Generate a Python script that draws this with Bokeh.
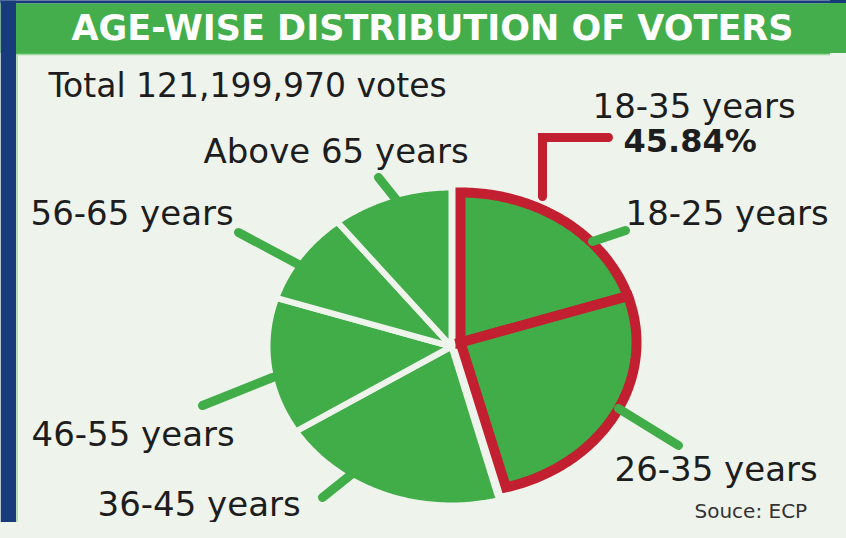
import numpy as np
from bokeh.plotting import figure
from bokeh.models import Range1d
from bokeh.core.properties import value
from bokeh.embed import file_html
from bokeh.resources import INLINE

# ---------------- data ----------------
title = "AGE-WISE DISTRIBUTION OF VOTERS"
total_votes = 121199970
categories = ["18-25 years", "26-35 years", "36-45 years",
              "46-55 years", "56-65 years", "Above 65 years"]
shares = [20.0, 25.84, 20.2, 13.9, 9.4, 10.66]   # percent, clockwise from top
highlight_label = "18-35 years"
highlight_idx = [0, 1]
source_note = "Souce: ECP"

# ---------------- styles / layout ----------------
BG = "#eef3ec"
GREEN = "#40ad49"
BAR_GREEN = "#43ae4b"
RED = "#c21f30"
BLUE = "#173b7b"
TXT = "#1d1d1d"
FONT = "DejaVu Sans"

W, H = 830, 522
p = figure(width=W, height=H, x_range=Range1d(0, W), y_range=Range1d(H, 0),
           output_backend="svg", toolbar_location=None, min_border=0)
p.xaxis.visible = False
p.yaxis.visible = False
p.grid.visible = False
p.outline_line_color = None
p.background_fill_color = BG
p.border_fill_color = BG

# frame: blue left strip / top strip, green title bar
p.quad(left=[0], right=[15.5], top=[0], bottom=[H], fill_color=BLUE, line_color=None)
p.quad(left=[0], right=[W], top=[0], bottom=[3], fill_color=BLUE, line_color=None)
p.quad(left=[15.5], right=[W], top=[3], bottom=[54], fill_color=BAR_GREEN, line_color=None)
p.segment(x0=[16.5, 16.5], y0=[54, 54], x1=[16.5, W], y1=[H, 54],
          line_color="#9fd89f", line_width=1.5)

# ---------------- pie (elliptical) ----------------
vals = np.array(shares, dtype=float)
cum = np.concatenate([[0.0], np.cumsum(vals)]) / vals.sum()
starts = np.pi / 2 - 2 * np.pi * cum[:-1]
ends = np.pi / 2 - 2 * np.pi * cum[1:]


def slice_poly(cx, cy, rx, ry, a0, a1):
    t = np.linspace(a0, a1, 80)
    xs = [cx] + list(cx + rx * np.cos(t))
    ys = [cy] + list(cy - ry * np.sin(t))
    return xs, ys


g_xs, g_ys, r_xs, r_ys = [], [], [], []
for i in range(len(vals)):
    if i in highlight_idx:
        xs, ys = slice_poly(460, 342, 176, 150, starts[i], ends[i])
        r_xs.append(xs); r_ys.append(ys)
    else:
        xs, ys = slice_poly(451, 346, 184, 159, starts[i], ends[i])
        g_xs.append(xs); g_ys.append(ys)

p.patches(g_xs, g_ys, fill_color=GREEN, line_color=BG, line_width=6, line_join="miter")
p.patches(r_xs, r_ys, fill_color=GREEN, line_color=RED, line_width=10, line_join="miter")

# red callout for 18-35
p.line(x=[542, 542, 608], y=[196, 137, 137], line_color=RED, line_width=9,
       line_join="miter", line_cap="round")

# leader lines (outer end -> pie edge), in category order
leaders = [((625, 230), (592, 241)),
           ((678, 445), (618, 408)),
           ((322, 497), (352, 473)),
           ((202, 405), (272, 377)),
           ((238, 232), (298, 264)),
           ((378, 177), (398, 202))]
p.multi_line([[a[0], b[0]] for a, b in leaders], [[a[1], b[1]] for a, b in leaders],
             line_color=GREEN, line_width=9, line_cap="round")

# ---------------- texts ----------------
def off(size):
    return -round(0.36 * size)


p.text(x=[432], y=[40], text=[title], text_font=value(FONT), text_font_style="bold",
       text_font_size="35px", text_color="white", text_align="center",
       text_baseline="alphabetic", y_offset=off(35))
p.text(x=[48], y=[97], text=[f"Total {total_votes:,} votes"], text_font=value(FONT),
       text_font_size="33px", text_color=TXT, text_baseline="alphabetic", y_offset=off(33))

label_pos = [(625, 224), (614, 480), (97, 515), (31, 445), (30, 224), (203, 162)]
p.text(x=[q[0] for q in label_pos], y=[q[1] for q in label_pos], text=categories,
       text_font=value(FONT), text_font_size="34px", text_color=TXT,
       text_baseline="alphabetic", y_offset=off(34))

hl_share = sum(shares[i] for i in highlight_idx)
p.text(x=[592], y=[117], text=[highlight_label], text_font=value(FONT),
       text_font_size="34px", text_color=TXT, text_baseline="alphabetic", y_offset=off(34))
p.text(x=[623], y=[152], text=[f"{hl_share:.2f}%"], text_font=value(FONT),
       text_font_style="bold", text_font_size="32px", text_color=TXT,
       text_baseline="alphabetic", y_offset=off(32))
p.text(x=[694], y=[517], text=[source_note], text_font=value(FONT),
       text_font_size="20px", text_color="#333333", text_baseline="alphabetic",
       y_offset=off(20))

html = file_html(p, INLINE)
page_bg = ("html { background: "
           "linear-gradient(%s, %s) 0 0 / 100%% 3px no-repeat, "
           "linear-gradient(%s, %s) 0 3px / 100%% 50px no-repeat, %s; } "
           "body { background: transparent; }"
           % (BLUE, BLUE, BAR_GREEN, BAR_GREEN, BG))
html = html.replace("</head>", "<style>%s</style>\n</head>" % page_bg, 1)
open("out.html", "w").write(html)
